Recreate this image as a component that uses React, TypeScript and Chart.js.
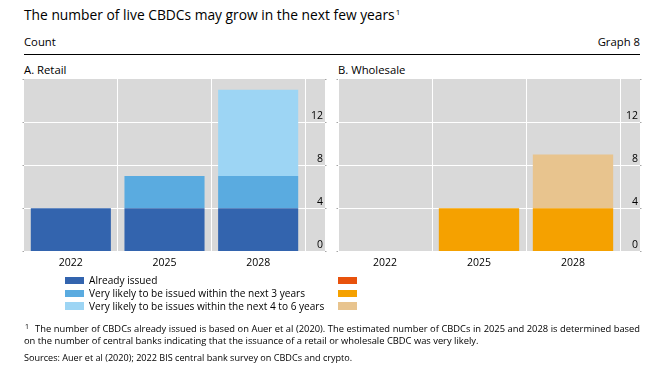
import React, { useEffect, useRef } from "react";
import { Chart, registerables } from "chart.js";

Chart.register(...registerables);

const FONT = '"Open Sans", "Noto Sans", sans-serif';

// ---- data ----
const categories = ["2022", "2025", "2028"];
const yTickValues = [0, 4, 8, 12];
const yMin = 0;
const yMax = 16;

const seriesNames = [
  "Already issued",
  "Very likely to be issued within the next 3 years",
  "Very likely to be issues within the next 4 to 6 years",
];

const retailAlreadyIssued = [4, 4, 4];
const retailWithin3Years = [0, 3, 3];
const retailWithin4to6Years = [0, 0, 8];

const wholesaleAlreadyIssued = [0, 0, 0];
const wholesaleWithin3Years = [0, 4, 4];
const wholesaleWithin4to6Years = [0, 0, 5];

const retailColors = ["#3364ae", "#5aabe0", "#9dd5f4"];
const wholesaleColors = ["#e8520c", "#f5a100", "#e8c48e"];

const titleText = "The number of live CBDCs may grow in the next few years";
const unitText = "Count";
const graphText = "Graph 8";
const panelATitle = "A. Retail";
const panelBTitle = "B. Wholesale";
const footnoteLine1 =
  "The number of CBDCs already issued is based on Auer et al (2020). The estimated number of CBDCs in 2025 and 2028 is determined based";
const footnoteLine2 =
  "on the number of central banks indicating that the issuance of a retail or wholesale CBDC was very likely.";
const sourcesText = "Sources: Auer et al (2020); 2022 BIS central bank survey on CBDCs and crypto.";

const PLOT_BG = "#d9d9d9";

function alignPx(p: number) {
  return Math.round(p - 0.5) + 0.5;
}

type PanelProps = {
  series: number[][];
  colors: string[];
  left: number;
  top: number;
  width: number;
  height: number;
};

function Panel({ series, colors, left, top, width, height }: PanelProps) {
  const ref = useRef<HTMLCanvasElement | null>(null);

  useEffect(() => {
    if (!ref.current) return;
    const decor = {
      id: "panelDecor",
      beforeDraw(chart: any) {
        const { ctx, chartArea } = chart;
        const ys = chart.scales.y;
        ctx.save();
        ctx.fillStyle = PLOT_BG;
        ctx.fillRect(chartArea.left, chartArea.top, ys.right - chartArea.left, chartArea.bottom - chartArea.top);
        ctx.restore();
      },
      beforeDatasetsDraw(chart: any) {
        const { ctx, chartArea } = chart;
        const ys = chart.scales.y;
        ctx.save();
        ctx.strokeStyle = "#ffffff";
        ctx.lineWidth = 1;
        ys.ticks.forEach((t: any) => {
          const y = alignPx(ys.getPixelForValue(t.value));
          ctx.beginPath();
          ctx.moveTo(chartArea.right, y);
          ctx.lineTo(ys.right, y);
          ctx.stroke();
        });
        // small edge marks
        ctx.strokeStyle = "#a6a6a6";
        const marks = [...ys.ticks.map((t: any) => t.value), yMax];
        marks.forEach((v: number) => {
          const y = alignPx(ys.getPixelForValue(v));
          ctx.beginPath();
          ctx.moveTo(chartArea.left - 1.5, y);
          ctx.lineTo(chartArea.left, y);
          ctx.moveTo(ys.right, y);
          ctx.lineTo(ys.right + 1.5, y);
          ctx.stroke();
        });
        ctx.restore();
      },
      afterDraw(chart: any) {
        const { ctx } = chart;
        const ys = chart.scales.y;
        ctx.save();
        ctx.fillStyle = "#000000";
        ctx.font = `10.5px ${FONT}`;
        ctx.textAlign = "right";
        ctx.textBaseline = "alphabetic";
        ys.ticks.forEach((t: any) => {
          if (!t.label) return;
          const y = ys.getPixelForValue(t.value);
          ctx.fillText(String(t.label), ys.right - 2, y - 3);
        });
        ctx.restore();
      },
    };

    const chart = new Chart(ref.current, {
      type: "bar",
      data: {
        labels: categories,
        datasets: series.map((d, i) => ({
          label: seriesNames[i],
          data: d,
          backgroundColor: colors[i],
          borderWidth: 0,
          barPercentage: 0.855,
          categoryPercentage: 1,
        })),
      },
      options: {
        animation: false,
        responsive: false,
        maintainAspectRatio: false,
        devicePixelRatio: 1,
        layout: { padding: { left: 3, right: 3, top: 1, bottom: 0 } },
        plugins: {
          legend: { display: false },
          tooltip: { enabled: false },
          title: { display: false },
        },
        scales: {
          x: {
            stacked: true,
            grid: { color: "#ffffff", lineWidth: 1, drawTicks: false, offset: true },
            border: { display: false },
            ticks: {
              color: "#000000",
              padding: 5,
              font: { family: FONT, size: 10.5 },
            },
          },
          y: {
            stacked: true,
            position: "right",
            min: yMin,
            max: yMax,
            afterBuildTicks: (s: any) => {
              s.ticks = yTickValues.map((v) => ({ value: v }));
            },
            afterFit: (s: any) => {
              s.width = 20;
            },
            grid: { color: "#ffffff", lineWidth: 1, drawTicks: false },
            border: { display: false },
            ticks: {
              display: false,
              callback: (v: any) => String(v),
            },
          },
        },
      },
      plugins: [decor],
    } as any);

    return () => chart.destroy();
  }, [series, colors]);

  return (
    <canvas
      ref={ref}
      width={width}
      height={height}
      style={{ position: "absolute", left, top, width, height }}
    />
  );
}

const retailSeries = [retailAlreadyIssued, retailWithin3Years, retailWithin4to6Years];
const wholesaleSeries = [wholesaleAlreadyIssued, wholesaleWithin3Years, wholesaleWithin4to6Years];

function Txt({
  left,
  top,
  size,
  children,
  right,
  width,
  justify,
}: {
  left?: number;
  top: number;
  size: number;
  children: React.ReactNode;
  right?: number;
  width?: number;
  justify?: boolean;
}) {
  return (
    <div
      style={{
        position: "absolute",
        left,
        right,
        top,
        width,
        fontSize: size,
        lineHeight: `${size}px`,
        fontFamily: FONT,
        color: "#000",
        whiteSpace: justify ? "normal" : "nowrap",
        textAlign: justify ? "justify" : undefined,
        textAlignLast: justify ? "justify" : undefined,
      } as any}
    >
      {children}
    </div>
  );
}

export default function App() {
  const legendRows = [0, 1, 2];
  return (
    <div
      style={{
        position: "fixed",
        left: 0,
        top: 0,
        width: 672,
        height: 372,
        background: "#ffffff",
        overflow: "hidden",
      }}
    >
      <Txt left={24} top={8.2} size={13.8}>
        {titleText}
        <span style={{ fontSize: 8, position: "relative", top: -5, marginLeft: 1 }}>1</span>
      </Txt>
      <Txt left={24} top={35.7} size={11.3}>
        {unitText}
      </Txt>
      <Txt right={672 - 640} top={35.7} size={11.3}>
        {graphText}
      </Txt>
      <div style={{ position: "absolute", left: 24, top: 54, width: 616, height: 1.3, background: "#000" }} />
      <Txt left={24} top={64} size={11.3}>
        {panelATitle}
      </Txt>
      <Txt left={338} top={64} size={11.3}>
        {panelBTitle}
      </Txt>

      <Panel series={retailSeries} colors={retailColors} left={21} top={78} width={307} height={196} />
      <Panel series={wholesaleSeries} colors={wholesaleColors} left={335} top={78} width={308} height={196} />

      {legendRows.map((i) => (
        <React.Fragment key={i}>
          <div
            style={{
              position: "absolute",
              left: 65,
              top: 277 + i * 12.7,
              width: 19,
              height: 7.3,
              background: retailColors[i],
            }}
          />
          <div
            style={{
              position: "absolute",
              left: 338,
              top: 277 + i * 12.7,
              width: 19,
              height: 7.3,
              background: wholesaleColors[i],
            }}
          />
          <Txt left={89} top={275.1 + i * 12.7} size={10.1}>
            {seriesNames[i]}
          </Txt>
        </React.Fragment>
      ))}

      <Txt left={25} top={323} size={7}>
        1
      </Txt>
      <Txt left={35} top={323.6} size={9.35} width={605} justify>
        {footnoteLine1}
      </Txt>
      <Txt left={24} top={336} size={9.35}>
        {footnoteLine2}
      </Txt>
      <Txt left={24} top={352.7} size={9.1}>
        {sourcesText}
      </Txt>
    </div>
  );
}
